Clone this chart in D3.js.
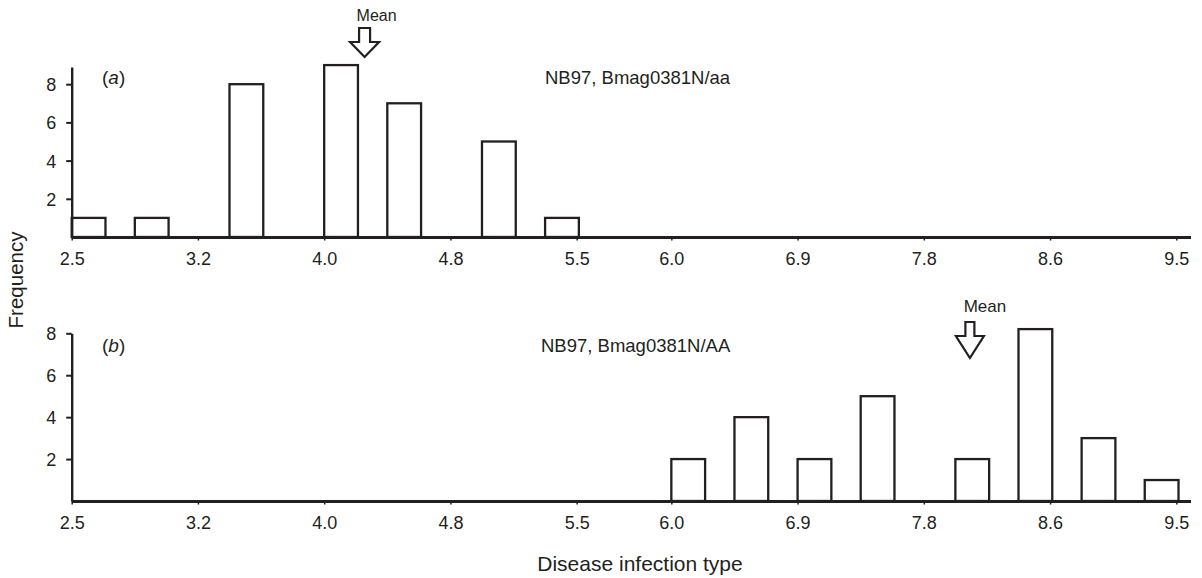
<!DOCTYPE html>
<html>
<head>
<meta charset="utf-8">
<script src="https://cdn.jsdelivr.net/npm/d3@7"></script>
<style>
  body { margin: 0; background: #fff; }
  svg { display: block; }
  text { font-family: "Liberation Sans", Arial, Helvetica, sans-serif; fill: #231f20; }
</style>
</head>
<body>
<svg id="chart" width="1202" height="578"></svg>
<script>
// ---------------- DATA ----------------
// x axis is a sequence of class bins; tick labels sit on these bin indices
const binLabels     = ["2.5", "3.2", "4.0", "4.8", "5.5", "6.0", "6.9", "7.8", "8.6", "9.5"];
const binLabelIndex = [0, 4, 8, 12, 16, 19, 23, 27, 31, 35];

// panel (a): NB97, Bmag0381N/aa
const binsA = [0, 2, 5, 8, 10, 13, 15];
const freqA = [1, 1, 8, 9, 7, 5, 1];
const meanA = 9.28;          // bin position of the mean arrow

// panel (b): NB97, Bmag0381N/AA
const binsB = [19, 21, 23, 25, 28, 30, 32, 34];
const freqB = [2, 4, 2, 5, 2, 8.2, 3, 1];
const meanB = 28.46;

const yTicks = [2, 4, 6, 8];
const panelLetters = ["a", "b"];
const genotypeLabels = ["NB97, Bmag0381N/aa", "NB97, Bmag0381N/AA"];
const yTitle = "Frequency";
const xTitle = "Disease infection type";
const meanLabel = "Mean";

// ---------------- LAYOUT / STYLE ----------------
const ink = "#231f20";
const svg = d3.select("#chart");
const binMax = 35.45;
const barWidthBins = 1.07;
const x = d3.scaleLinear().domain([0, binMax]).range([71.7, 1190.5]);

const panels = [
  { bins: binsA, freq: freqA, mean: meanA, yMax: 8.9, yRange: [237, 67],
    letter: panelLetters[0], label: genotypeLabels[0], textY: 84, labelX: 545,
    arrow: { top: 28, base: 42, tip: 57, sw: 5.5, hw: 14.5 }, meanText: { dx: 12, y: 21, size: 16 } },
  { bins: binsB, freq: freqB, mean: meanB, yMax: 8, yRange: [501, 333.3],
    letter: panelLetters[1], label: genotypeLabels[1], textY: 351.5, labelX: 541,
    arrow: { top: 322, base: 336, tip: 358, sw: 4.5, hw: 14 }, meanText: { dx: 15, y: 311.5, size: 17 } }
];

panels.forEach(p => {
  const y = d3.scaleLinear().domain([0, p.yMax]).range(p.yRange);
  const g = svg.append("g");

  // bars
  const data = p.bins.map((b, i) => ({ bin: b, f: p.freq[i] }));
  g.selectAll("rect.bar").data(data).join("rect")
    .attr("class", "bar")
    .attr("x", d => x(d.bin))
    .attr("width", d => x(d.bin + barWidthBins) - x(d.bin))
    .attr("y", d => y(d.f))
    .attr("height", d => y(0) - y(d.f))
    .attr("fill", "#fff")
    .attr("stroke", ink)
    .attr("stroke-width", 2.3);

  // y axis
  const ya = g.append("g")
    .attr("transform", `translate(${x(0)},0)`)
    .call(d3.axisLeft(y).tickValues(yTicks).tickSize(5.5).tickSizeOuter(0).tickPadding(10).tickFormat(d3.format("d")));
  ya.select(".domain").attr("stroke", ink).attr("stroke-width", 2.4);
  ya.selectAll(".tick line").attr("stroke", ink).attr("stroke-width", 2);
  ya.selectAll(".tick text").attr("font-size", 18).attr("fill", ink).attr("dy", "0.36em");

  // x axis
  const xa = g.append("g")
    .attr("transform", `translate(0,${y(0)})`)
    .call(d3.axisBottom(x).tickValues(binLabelIndex).tickFormat((d, i) => binLabels[i])
      .tickSize(3.5).tickSizeOuter(0).tickPadding(12));
  xa.select(".domain").attr("stroke", ink).attr("stroke-width", 3);
  xa.selectAll(".tick line").attr("stroke", ink).attr("stroke-width", 1.5);
  xa.selectAll(".tick text").attr("font-size", 18).attr("fill", ink);

  // panel letter "(a)"
  const lt = g.append("text").attr("x", 102).attr("y", p.textY).attr("font-size", 19);
  lt.append("tspan").text("(");
  lt.append("tspan").attr("font-style", "italic").text(p.letter);
  lt.append("tspan").text(")");

  // genotype label
  g.append("text").attr("x", p.labelX).attr("y", p.textY).attr("font-size", 18.5).text(p.label);

  // mean arrow (hollow)
  const cx = x(p.mean), a = p.arrow;
  const pts = [
    [cx - a.sw, a.top], [cx + a.sw, a.top], [cx + a.sw, a.base], [cx + a.hw, a.base],
    [cx, a.tip], [cx - a.hw, a.base], [cx - a.sw, a.base]
  ];
  g.append("path")
    .attr("d", d3.line()(pts) + "Z")
    .attr("fill", "#fff").attr("stroke", ink).attr("stroke-width", 2.2).attr("stroke-linejoin", "miter");
  g.append("text").attr("x", cx + p.meanText.dx).attr("y", p.meanText.y)
    .attr("text-anchor", "middle").attr("font-size", p.meanText.size).text(meanLabel);
});

// axis titles
svg.append("text")
  .attr("transform", "translate(23,280) rotate(-90)")
  .attr("text-anchor", "middle").attr("font-size", 20.5).text(yTitle);
svg.append("text")
  .attr("x", 640).attr("y", 571)
  .attr("text-anchor", "middle").attr("font-size", 21).text(xTitle);
</script>
</body>
</html>
